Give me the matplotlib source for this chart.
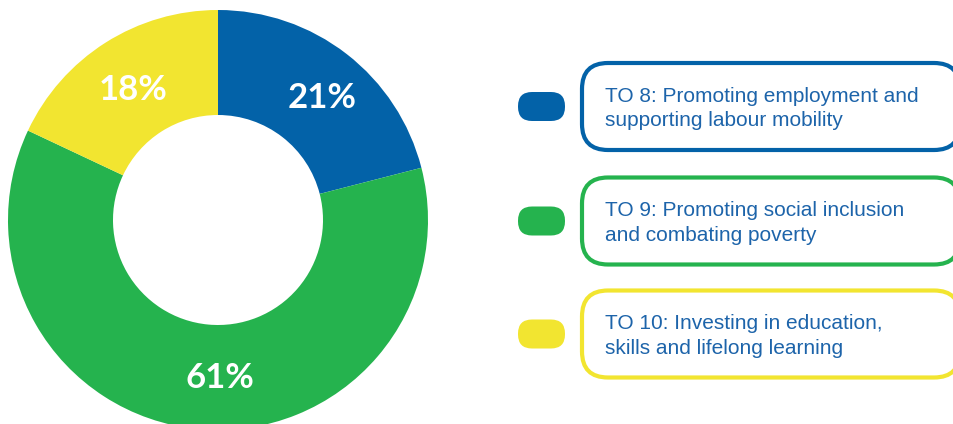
import matplotlib
matplotlib.use("Agg")
import matplotlib.pyplot as plt
from matplotlib.patches import FancyBboxPatch

categories = ["TO 8: Promoting employment and\nsupporting labour mobility",
              "TO 9: Promoting social inclusion\nand combating poverty",
              "TO 10: Investing in education,\nskills and lifelong learning"]
values = [21, 61, 18]
colors = ["#0362A8", "#25B34E", "#F2E530"]
text_color = "#1D64AA"

W, H = 954, 424
fig = plt.figure(figsize=(W / 100, H / 100), dpi=100)
ax = fig.add_axes([0, 0, 1, 1])

cx, cy, R = 218, 424 - 220, 210
wedges, texts, autotexts = ax.pie(
    values, colors=colors, startangle=90, counterclock=False,
    center=(cx, cy), radius=R, wedgeprops=dict(width=R / 2, linewidth=0),
    autopct=lambda p: f"{p:.0f}%", pctdistance=0.75)
label_pos = [(322, 424 - 98), (220, 424 - 378), (133, 424 - 90)]
for t, (x, y) in zip(autotexts, label_pos):
    t.set_position((x, y))
    t.set_color("white")
    t.set_fontsize(25)
    t.set_fontweight("bold")
    t.set_fontfamily("Lato")

ax.set_xlim(0, W)
ax.set_ylim(0, H)
ax.set_aspect("equal")
ax.axis("off")

box_centers = [424 - 106.5, 424 - 221, 424 - 334]
for lab, col, yc in zip(categories, colors, box_centers):
    box = FancyBboxPatch((582, yc - 43.5), 378, 87,
                         boxstyle="round,pad=0,rounding_size=26",
                         facecolor="white", edgecolor=col, linewidth=3)
    ax.add_patch(box)
    sw = FancyBboxPatch((518, yc - 14.5), 47, 29,
                        boxstyle="round,pad=0,rounding_size=14",
                        facecolor=col, edgecolor="none")
    ax.add_patch(sw)
    ax.text(605, yc - 2, lab, ha="left", va="center", color=text_color,
            fontsize=15, family="Liberation Sans",
            linespacing=1.4)

fig.savefig("out.png", dpi=100)
